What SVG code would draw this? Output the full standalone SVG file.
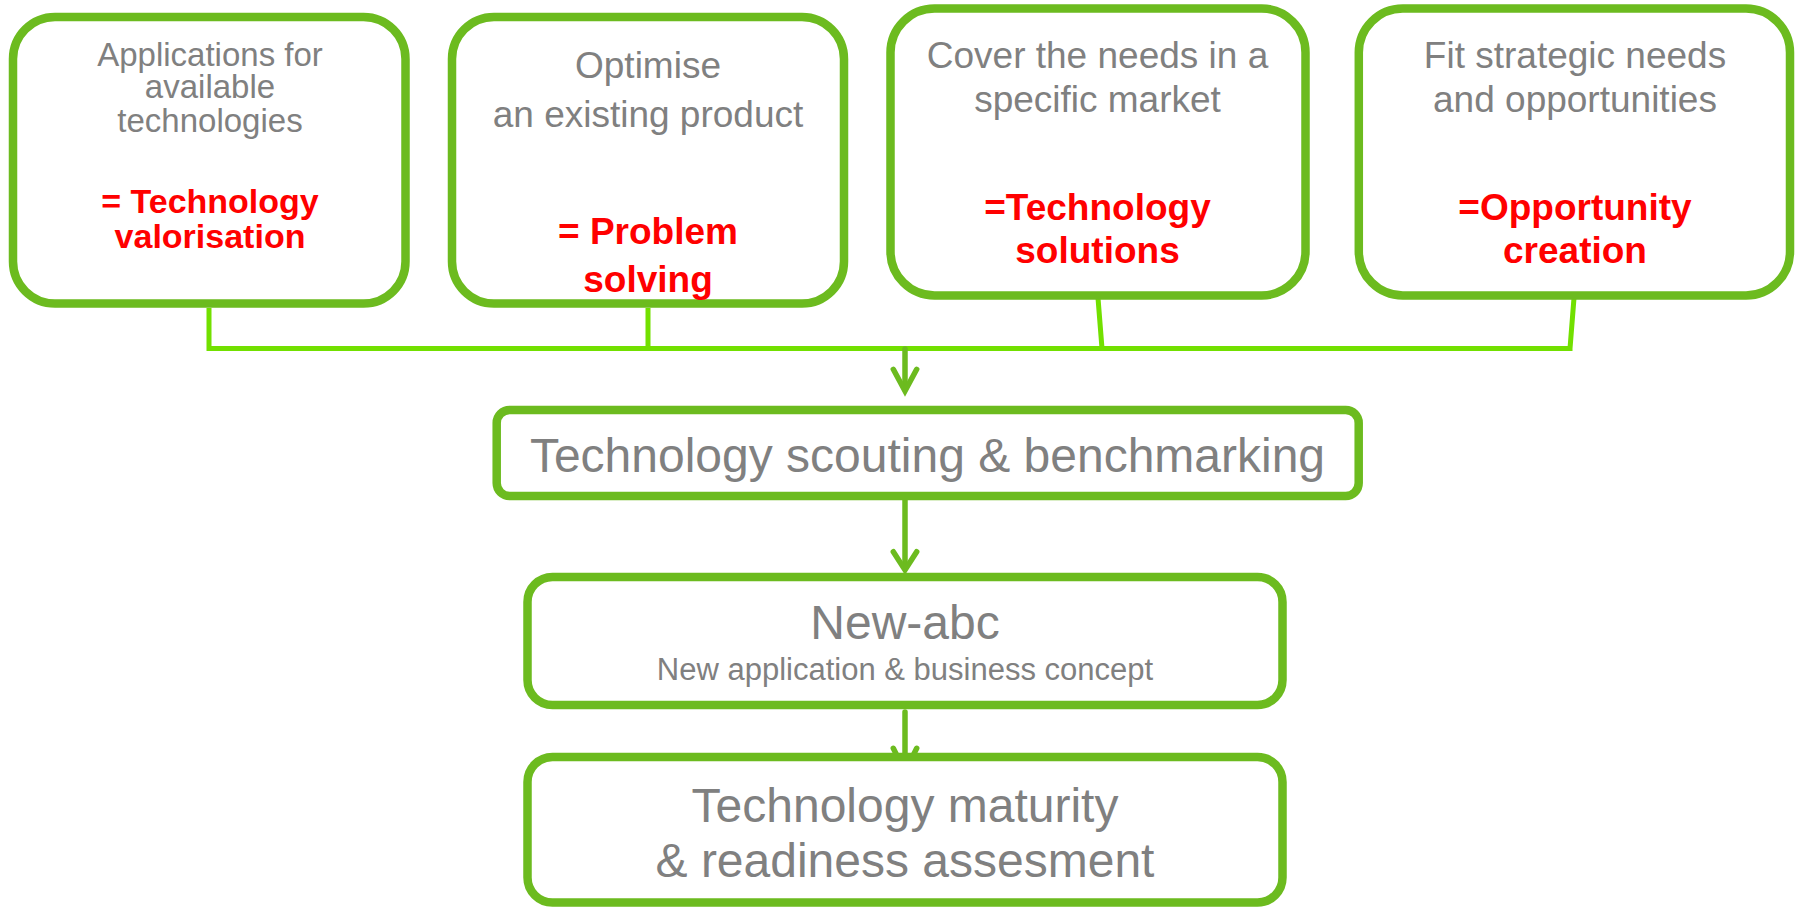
<svg xmlns="http://www.w3.org/2000/svg" width="1796" height="907" viewBox="0 0 1796 907">
<style>
.box{fill:#ffffff;stroke:#6cbb1f;stroke-width:8.5}
.g{font-family:"Liberation Sans",Arial,Helvetica,sans-serif;fill:#808080;text-anchor:middle}
.r{font-family:"Liberation Sans",Arial,Helvetica,sans-serif;fill:#ff0000;font-weight:bold;text-anchor:middle}
.lime{stroke:#72e000;stroke-width:5;fill:none}
.arr{stroke:#6cbb1f;stroke-width:5.5;fill:none;stroke-linecap:round;stroke-linejoin:miter}
</style>
<rect x="0" y="0" width="1796" height="907" fill="#ffffff"/>
<g id="connectors">
<path class="lime" d="M209,308 V348.5 M648,308 V348.5 M1098,298 L1102,348.5 M1574,298 L1570,348.5 M206.5,348.5 H1572.5"/>
<path class="arr" d="M905,349 V389"/>
<polyline class="arr" points="893.3,369.3 905,391 916.7,369.3"/>
<path class="arr" d="M905,500 V568"/>
<polyline class="arr" points="893.3,551.7 905,570 916.7,551.7"/>
<path class="arr" d="M905,712 V770"/>
<polyline class="arr" points="893.3,748.3 905,772 916.7,748.3"/>
</g>
<g id="node1">
<rect class="box" x="13" y="17" width="392.5" height="286.5" rx="42"/>
<text class="g" font-size="33" x="210" y="65.7">Applications for</text>
<text class="g" font-size="33" x="210" y="98.3">available</text>
<text class="g" font-size="33" x="210" y="131.7">technologies</text>
<text class="r" font-size="34" x="210" y="213.3">= Technology</text>
<text class="r" font-size="34" x="210" y="248.3">valorisation</text>
</g>
<g id="node2">
<rect class="box" x="452" y="17" width="392" height="286.5" rx="42"/>
<text class="g" font-size="37" x="648" y="78.3">Optimise</text>
<text class="g" font-size="37" x="648" y="126.7">an existing product</text>
<text class="r" font-size="37" x="648" y="244.3">= Problem</text>
<text class="r" font-size="37" x="648" y="291.7">solving</text>
</g>
<g id="node3">
<rect class="box" x="890.5" y="8.5" width="415" height="287" rx="44"/>
<text class="g" font-size="37" x="1097.5" y="67.7">Cover the needs in a</text>
<text class="g" font-size="37" x="1097.5" y="111.7">specific market</text>
<text class="r" font-size="37" x="1097.5" y="220">=Technology</text>
<text class="r" font-size="37" x="1097.5" y="263.3">solutions</text>
</g>
<g id="node4">
<rect class="box" x="1358.8" y="8.5" width="431.2" height="287" rx="44"/>
<text class="g" font-size="37" x="1575" y="67.7">Fit strategic needs</text>
<text class="g" font-size="37" x="1575" y="111.7">and opportunities</text>
<text class="r" font-size="37" x="1575" y="220">=Opportunity</text>
<text class="r" font-size="37" x="1575" y="263.3">creation</text>
</g>
<g id="node5">
<rect class="box" x="496.7" y="410" width="862" height="86" rx="13"/>
<text class="g" font-size="48" x="927.5" y="471.7">Technology scouting &amp; benchmarking</text>
</g>
<g id="node6">
<rect class="box" x="527.5" y="577" width="755" height="128" rx="25"/>
<text class="g" font-size="48" x="905" y="639.3">New-abc</text>
<text class="g" font-size="31" x="905" y="680">New application &amp; business concept</text>
</g>
<g id="node7">
<rect class="box" x="527.5" y="757" width="755" height="145.5" rx="25"/>
<text class="g" font-size="48" x="905" y="821.7">Technology maturity</text>
<text class="g" font-size="48" x="905" y="877.3">&amp; readiness assesment</text>
</g>
</svg>
